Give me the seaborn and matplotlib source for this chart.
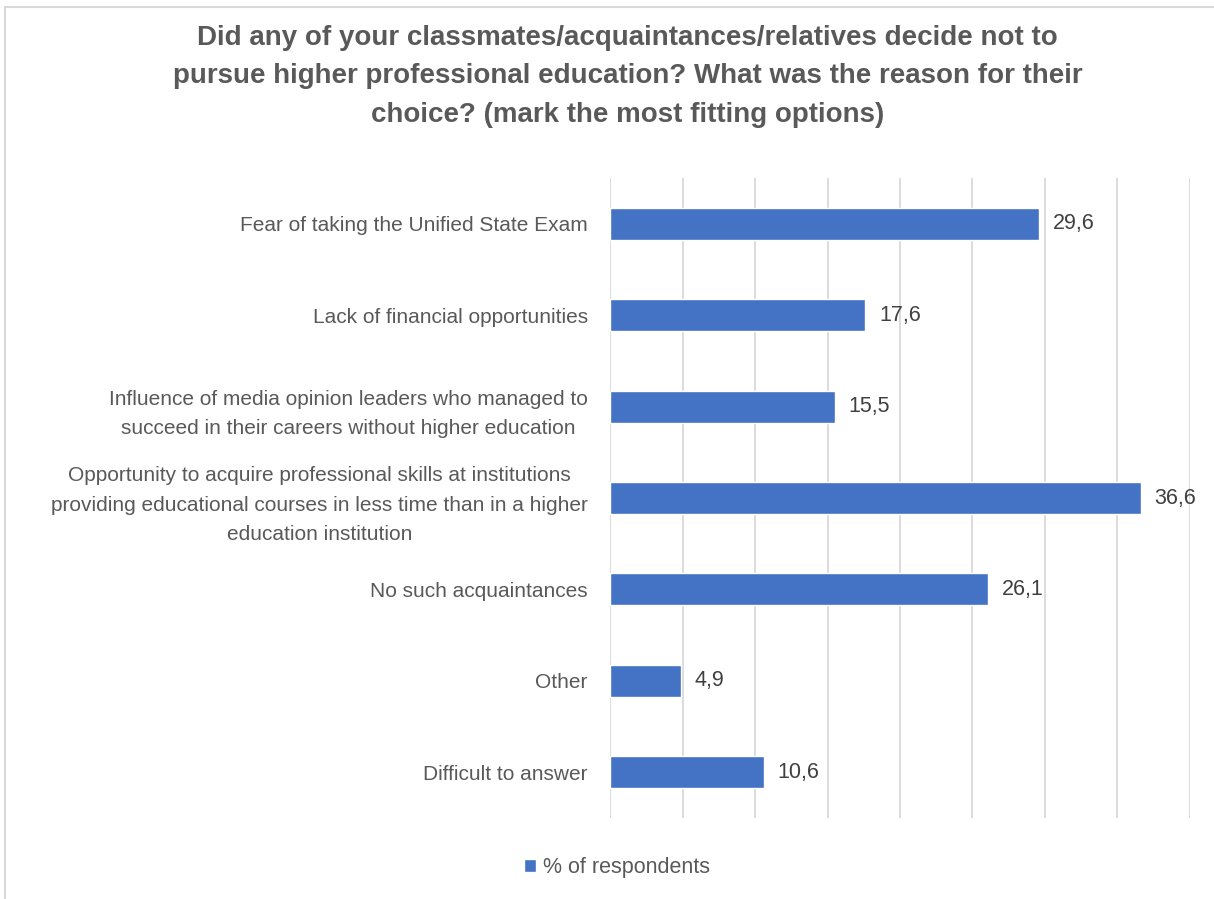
import numpy as np
import pandas as pd
import matplotlib
matplotlib.use("Agg")
import matplotlib.pyplot as plt
import seaborn as sns
from matplotlib.patches import Rectangle, Patch

# data
categories = [
    "Fear of taking the Unified State Exam",
    "Lack of financial opportunities",
    "Influence of media opinion leaders who managed to\nsucceed in their careers without higher education",
    "Opportunity to acquire professional skills at institutions\nproviding educational courses in less time than in a higher\neducation institution",
    "No such acquaintances",
    "Other",
    "Difficult to answer",
]
values = [29.6, 17.6, 15.5, 36.6, 26.1, 4.9, 10.6]
series_name = "% of respondents"
title = ("Did any of your classmates/acquaintances/relatives decide not to\n"
         "pursue higher professional education? What was the reason for their\n"
         "choice? (mark the most fitting options)")

df = pd.DataFrame({"category": categories, "value": values})

sns.set_style("white")
plt.rcParams['font.family'] = ['Liberation Sans', 'DejaVu Sans']

bar_color = "#4472C4"
text_gray = "#595959"

fig = plt.figure(figsize=(12.14, 8.99), dpi=100)
ax = fig.add_axes([0.5025, 0.090, 0.4777, 0.712])

sns.barplot(data=df, x="value", y="category", color=bar_color, width=0.35,
            saturation=1, ax=ax)

ax.set_xlim(0, 40)
ax.set_xticks(np.arange(0, 41, 5))
ax.xaxis.grid(True, color="#D9D9D9", linewidth=1.3)
ax.set_axisbelow(True)
ax.tick_params(axis="x", length=0, labelbottom=False)
ax.tick_params(axis="y", length=0, pad=16, labelsize=15, labelcolor=text_gray)
for lbl in ax.get_yticklabels():
    lbl.set_multialignment("center")
    lbl.set_linespacing(1.7)
for s in ax.spines.values():
    s.set_visible(False)
ax.set_xlabel("")
ax.set_ylabel("")

for c in ax.containers:
    ax.bar_label(c, labels=[f"{v:.1f}".replace(".", ",") for v in c.datavalues],
                 padding=10, fontsize=15.5, color="#404040")

fig.text(0.517, 0.915, title, ha="center", va="center", fontsize=20,
         fontweight="bold", color=text_gray, linespacing=1.62)

fig.legend(handles=[Patch(facecolor=bar_color, label=series_name)],
           loc="center", bbox_to_anchor=(0.508, 0.035), frameon=False,
           fontsize=15.5, labelcolor=text_gray, handlelength=0.6,
           handleheight=0.6, handletextpad=0.3)

# chart border
fig.patches.append(Rectangle((5 / 1214, -0.01), 1.2, 1 - 7 / 899 + 0.01,
                             transform=fig.transFigure, fill=False,
                             edgecolor="#D9D9D9", linewidth=1.5))

fig.savefig("out.png", dpi=100, facecolor="white")
